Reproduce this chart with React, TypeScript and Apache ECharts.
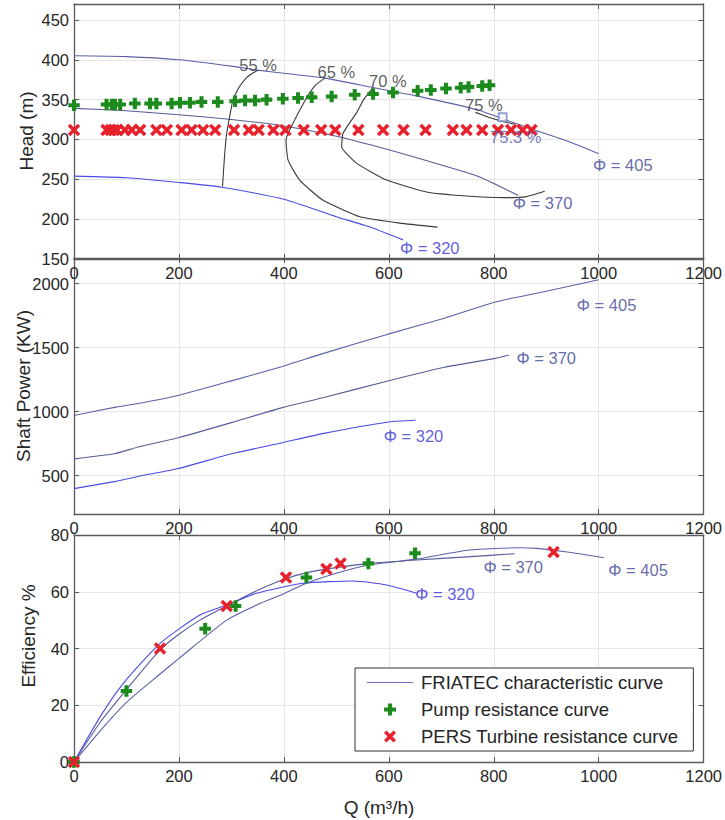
import React, { useEffect, useRef } from 'react';
import * as echarts from 'echarts';

const FONT = '"Liberation Sans", Arial, Helvetica, sans-serif';

// ---------- Head (m) vs Q ----------
const head405Q = [0, 100, 200, 300, 350, 400, 478, 571, 650, 770, 825, 882, 940, 1000];
const head405H = [405, 404, 400, 392, 387, 383, 377, 365, 355, 337, 324, 311, 298, 282];
const head370Q = [0, 100, 200, 300, 400, 500, 600, 700, 773, 846];
const head370H = [339, 336, 331, 325, 317, 304, 287, 268, 253, 230];
const head320Q = [0, 100, 200, 282, 400, 500, 560, 627];
const head320H = [254, 252, 246, 240, 225, 203, 191, 174];

// iso-efficiency contours
const eff55Q = [283, 287, 291, 303, 314, 328, 340, 351];
const eff55H = [241, 280, 308, 350, 365, 377, 383, 387];
const eff65Q = [478, 460, 443, 411, 404, 408, 430, 474, 545, 621, 693];
const eff65H = [377, 368, 352, 312, 299, 274, 249, 224, 203, 195, 190];
const eff70Q = [570, 552, 539, 513, 510, 539, 596, 672, 748, 820, 860, 897];
const eff70H = [365, 350, 334, 308, 291, 270, 249, 234, 229, 227, 228, 235];
const eff75Q = [765, 790, 815, 840];
const eff75H = [334, 328, 323, 319];
const bepQ = [817];
const bepH = [328];

const pumpHQ = [0, 62, 72, 78, 88, 116, 145, 157, 186, 202, 221, 243, 274, 307, 326, 345, 367, 398, 427, 453, 491, 535, 570, 608, 655, 680, 709, 737, 752, 778, 792];
const pumpHH = [343, 344, 344, 344, 344, 345, 345, 345, 345, 346, 346, 347, 347, 348, 349, 349, 350, 351, 352, 353, 354, 356, 357, 359, 361, 362, 364, 365, 366, 367, 368];
const turbHQ = [0, 62, 70, 76, 82, 97, 110, 126, 157, 177, 205, 224, 246, 269, 305, 333, 352, 380, 403, 438, 471, 498, 542, 589, 628, 670, 722, 748, 778, 808, 833, 855, 872];
const turbHH = [312, 312, 312, 312, 312, 312, 312, 312, 312, 312, 312, 312, 312, 312, 312, 312, 312, 312, 312, 312, 312, 312, 312, 312, 312, 312, 312, 312, 312, 312, 312, 312, 312];

// ---------- Shaft power (KW) vs Q ----------
const pow405Q = [0, 80, 125, 200, 300, 397, 476, 600, 706, 803, 900, 1000];
const pow405P = [970, 1035, 1065, 1128, 1240, 1353, 1455, 1607, 1730, 1856, 1940, 2030];
const pow370Q = [0, 79, 124, 199, 300, 397, 476, 600, 706, 803, 829];
const pow370P = [631, 673, 725, 796, 914, 1031, 1110, 1241, 1346, 1416, 1442];
const pow320Q = [0, 79, 124, 199, 300, 397, 476, 600, 651];
const pow320P = [398, 455, 495, 555, 670, 757, 830, 919, 932];

// ---------- Efficiency % vs Q ----------
const eta405Q = [0, 50, 100, 164, 200, 291, 350, 402, 443, 500, 564, 653, 754, 850, 881, 920, 960, 1010];
const eta405E = [0, 11, 21, 31, 36.5, 50, 55.5, 59.5, 63, 66.5, 69.5, 71.5, 74.7, 75.5, 75.3, 74.5, 73.5, 72];
const eta370Q = [0, 50, 100, 164, 200, 240, 291, 350, 402, 450, 500, 564, 653, 750, 840];
const eta370E = [0, 14, 25.5, 39.5, 45, 50, 55, 60.5, 64.5, 67, 68.5, 70, 71.2, 72.3, 73.4];
const eta320Q = [0, 50, 94, 164, 240, 291, 348, 437, 532, 596, 653];
const eta320E = [0, 16, 27.7, 41.8, 51.8, 55.3, 59.5, 63, 63.8, 62.4, 59.5];

const pumpEQ = [0, 100, 250, 308, 443, 561, 650];
const pumpEE = [0, 25, 47, 55, 65, 70, 73.6];
const turbEQ = [0, 164, 291, 404, 481, 508, 914];
const turbEE = [0, 40, 55, 65, 68, 70, 74];

// axis ticks
const qTickStep = 200;
const headTickStep = 50;
const powerTickStep = 500;
const etaTickStep = 20;

// annotations [text, Q, value, colour]
const headLabels: [string, number, number, string][] = [
  ['55 %', 351, 394, '#333333'],
  ['65 %', 500, 385, '#333333'],
  ['70 %', 598, 373, '#333333'],
  ['75 %', 781, 343, '#333333'],
  ['75.3 %', 842, 303, '#4b58a8'],
  ['Φ = 405', 1046, 268, '#3d4596'],
  ['Φ = 370', 893, 220, '#3d4596'],
  ['Φ = 320', 678, 164, '#3535d8'],
];
const powerLabels: [string, number, number, string][] = [
  ['Φ = 405', 1015, 1830, '#3d4596'],
  ['Φ = 370', 900, 1416, '#3d4596'],
  ['Φ = 320', 647, 809, '#3535d8'],
];
const etaLabels: [string, number, number, string][] = [
  ['Φ = 405', 1075, 67.7, '#3d4596'],
  ['Φ = 370', 837, 68.8, '#3d4596'],
  ['Φ = 320', 707, 59.2, '#3535d8'],
];

const zip = (a: number[], b: number[]) => a.map((x, i) => [x, b[i]]);

const PLUS = 'path://M6.5,0H13.5V6.5H20V13.5H13.5V20H6.5V13.5H0V6.5H6.5Z';
const CROSS = 'path://M0,4L4,0L10,6L16,0L20,4L14,10L20,16L16,20L10,14L4,20L0,16L6,10Z';

const C405 = '#5a61a6';
const C370 = '#565d98';
const C320 = '#4a4ae4';
const CONTOUR = '#3a3a3a';
const GREEN = '#1c8a1c';
const RED = '#e8222c';
const AXIS = '#5a5a5a';
const GRIDC = '#e6e6e6';
const TXT = '#262626';
const CURVE = 'FRIATEC characteristic curve';
const PUMP = 'Pump resistance curve';
const TURB = 'PERS Turbine resistance curve';

export default function App() {
  const ref = useRef<HTMLDivElement>(null);

  useEffect(() => {
    if (!ref.current) return;
    const chart = echarts.init(ref.current, null, { renderer: 'svg' });

    const grids = [
      { left: 74, top: 4, width: 630, height: 255 },
      { left: 74, top: 258, width: 630, height: 256 },
      { left: 74, top: 535, width: 630, height: 227 },
    ];

    const xAxes: any[] = [];
    const yAxes: any[] = [];
    const yCfg: any[] = [
      { min: 150, max: 470, interval: headTickStep, fmt: (v: number) => (v % 50 === 0 && v <= 450 ? String(v) : '') },
      { min: 200, max: 2200, minInterval: powerTickStep, maxInterval: powerTickStep, splitNumber: 4, fmt: (v: number) => (v % 500 === 0 && v >= 500 && v <= 2000 ? String(v) : '') },
      { min: 0, max: 80, interval: etaTickStep, fmt: (v: number) => String(v) },
    ];
    grids.forEach((_, g) => {
      const common = {
        gridIndex: g,
        type: 'value',
        axisLine: { show: true, onZero: false, lineStyle: { color: AXIS, width: 1.3 } },
        axisTick: { show: true, inside: true, length: 5, lineStyle: { color: AXIS, width: 1 } },
      };
      xAxes.push({
        ...common,
        position: 'bottom',
        min: 0,
        max: 1200,
        interval: qTickStep,
        axisLabel: { show: true, margin: 5, fontSize: 16.5, color: TXT, fontFamily: FONT, formatter: (v: number) => String(v) },
        splitLine: { show: true, lineStyle: { color: GRIDC, width: 1 } },
      });
      xAxes.push({
        ...common,
        position: 'top',
        min: 0,
        max: 1200,
        interval: qTickStep,
        axisLabel: { show: false },
        splitLine: { show: false },
      });
      const yc = yCfg[g];
      const yRange: any = { min: yc.min, max: yc.max };
      if (yc.interval) yRange.interval = yc.interval;
      if (yc.minInterval) {
        yRange.minInterval = yc.minInterval;
        yRange.maxInterval = yc.maxInterval;
        yRange.splitNumber = yc.splitNumber;
      }
      yAxes.push({
        ...common,
        ...yRange,
        position: 'left',
        axisLabel: { show: true, margin: 5, fontSize: 16.5, color: TXT, fontFamily: FONT, formatter: yc.fmt, showMinLabel: true, showMaxLabel: true },
        splitLine: { show: true, lineStyle: { color: GRIDC, width: 1 } },
      });
      yAxes.push({
        ...common,
        ...yRange,
        position: 'right',
        axisLabel: { show: false },
        splitLine: { show: false },
      });
    });

    const line = (name: string, g: number, data: number[][], color: string, smooth = 0.2) => ({
      type: 'line',
      name,
      xAxisIndex: g * 2,
      yAxisIndex: g * 2,
      data,
      showSymbol: false,
      symbol: 'none',
      smooth,
      lineStyle: { color, width: 1.1 },
      silent: true,
      z: 2,
    });
    const scatter = (name: string, g: number, data: number[][], symbol: string, color: string, size: number) => ({
      type: 'scatter',
      name,
      xAxisIndex: g * 2,
      yAxisIndex: g * 2,
      data,
      symbol,
      symbolSize: size,
      itemStyle: { color, opacity: 1 },
      silent: true,
      z: 4,
    });
    const notes = (g: number, items: [string, number, number, string][]) => ({
      type: 'scatter',
      name: 'notes' + g,
      xAxisIndex: g * 2,
      yAxisIndex: g * 2,
      symbolSize: 1,
      itemStyle: { color: 'rgba(0,0,0,0)' },
      silent: true,
      z: 6,
      data: items.map(([t, q, v, c]) => ({
        name: t,
        value: [q, v],
        label: { color: c },
      })),
      label: {
        show: true,
        position: 'inside',
        formatter: '{b}',
        fontSize: 16.5,
        fontFamily: FONT,
      },
    });

    const series: any[] = [
      // head panel
      line(CURVE, 0, zip(head320Q, head320H), C320),
      line(CURVE, 0, zip(head405Q, head405H), C405),
      line(CURVE, 0, zip(head370Q, head370H), C370),
      line('η 55 %', 0, zip(eff55Q, eff55H), CONTOUR, 0.1),
      line('η 65 %', 0, zip(eff65Q, eff65H), CONTOUR, 0.15),
      line('η 70 %', 0, zip(eff70Q, eff70H), CONTOUR, 0.15),
      line('η 75 %', 0, zip(eff75Q, eff75H), CONTOUR, 0.1),
      {
        type: 'scatter',
        name: 'BEP 75.3 %',
        xAxisIndex: 0,
        yAxisIndex: 0,
        data: zip(bepQ, bepH),
        symbol: 'emptyRect',
        symbolSize: 8,
        itemStyle: { color: '#7c88c8', borderWidth: 1 },
        silent: true,
        z: 5,
      },
      scatter(PUMP, 0, zip(pumpHQ, pumpHH), PLUS, GREEN, 11.5),
      scatter(TURB, 0, zip(turbHQ, turbHH), CROSS, RED, 12.5),
      notes(0, headLabels),
      // power panel
      line(CURVE, 1, zip(pow405Q, pow405P), C405),
      line(CURVE, 1, zip(pow370Q, pow370P), C370),
      line(CURVE, 1, zip(pow320Q, pow320P), C320),
      notes(1, powerLabels),
      // efficiency panel
      line(CURVE, 2, zip(eta405Q, eta405E), C405),
      line(CURVE, 2, zip(eta370Q, eta370E), C370),
      line(CURVE, 2, zip(eta320Q, eta320E), C320),
      scatter(PUMP, 2, zip(pumpEQ, pumpEE), PLUS, GREEN, 11.5),
      scatter(TURB, 2, zip(turbEQ, turbEE), CROSS, RED, 12.5),
      notes(2, etaLabels),
    ];

    const title = (text: string, x: number, y: number, rot: number) => ({
      type: 'text',
      x,
      y,
      rotation: rot,
      silent: true,
      style: {
        text,
        fill: TXT,
        fontSize: 19,
        fontFamily: FONT,
        align: 'center',
        verticalAlign: 'middle',
        textAlign: 'center',
        textVerticalAlign: 'middle',
      },
    });

    chart.setOption({
      animation: false,
      backgroundColor: '#ffffff',
      grid: grids,
      xAxis: xAxes,
      yAxis: yAxes,
      series,
      legend: {
        orient: 'vertical',
        left: 355,
        top: 668,
        data: [
          { name: CURVE, icon: 'path://M0,0H46V1.2H0Z', itemStyle: { color: '#6a6fd4' } },
          { name: PUMP },
          { name: TURB },
        ],
        itemWidth: 46,
        itemHeight: 12,
        itemGap: 8,
        padding: [5, 15, 5, 12],
        borderColor: '#333333',
        borderWidth: 1,
        backgroundColor: '#ffffff',
        selectedMode: false,
        textStyle: { fontSize: 18.5, fontFamily: FONT, color: TXT, padding: [0, 0, 0, 3] },
        z: 10,
      },
      graphic: [
        title('Head (m)', 26, 131, Math.PI / 2),
        title('Shaft Power (KW)', 23, 386, Math.PI / 2),
        title('Efficiency %', 28, 636, Math.PI / 2),
        title('Q (m³/h)', 379, 807, 0),
      ],
    });

    return () => {
      chart.dispose();
    };
  }, []);

  return (
    <div
      ref={ref}
      style={{ position: 'absolute', left: 0, top: 0, width: 725, height: 820, background: '#fff' }}
    />
  );
}
